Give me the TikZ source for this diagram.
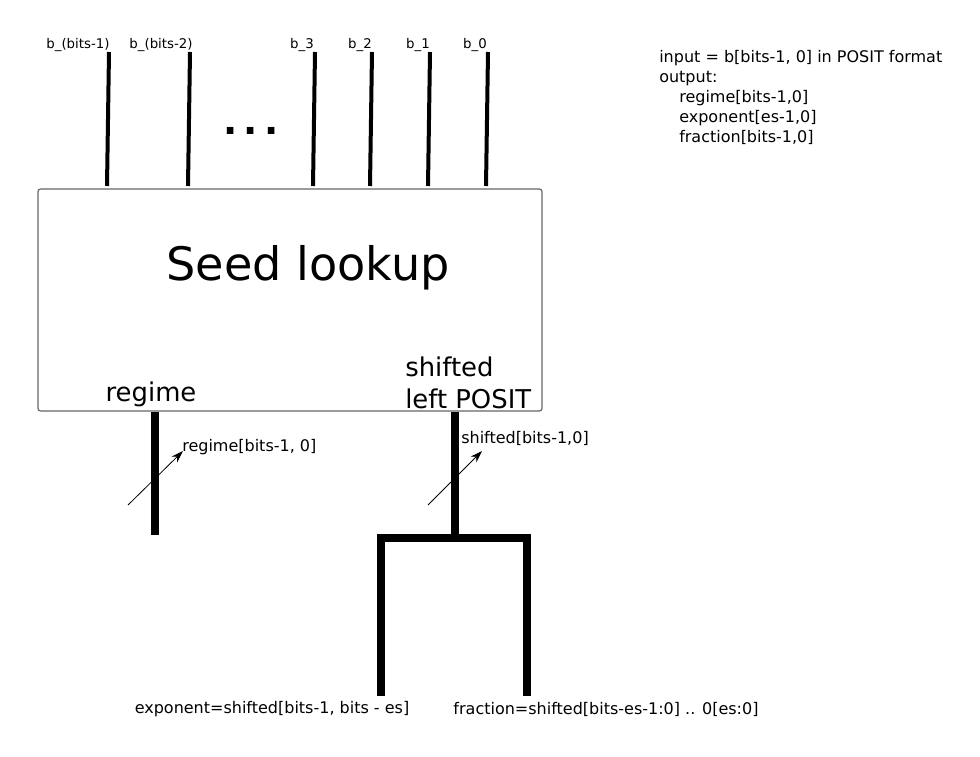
\documentclass[tikz,border=0pt]{standalone}
\usepackage{fontspec}
\setmainfont{DejaVu Sans}
\usetikzlibrary{arrows.meta}
\begin{document}
\begin{tikzpicture}[x=0.75pt,y=-0.75pt,
  bit/.style={line width=3pt},
  bus/.style={line width=5.5pt},
  slash/.style={line width=0.6pt,-{Stealth[length=9pt,width=6pt]}},
  small/.style={font=\fontsize{10}{12}\selectfont, inner sep=0pt},
  note/.style={font=\fontsize{12}{15}\selectfont, inner sep=0pt},
  big/.style={font=\fontsize{19.4}{24}\selectfont, inner sep=0pt},
  box/.style={draw=black!60, line width=0.9pt, rounded corners=2pt, minimum width=378pt, minimum height=166.5pt, inner sep=0pt}]
\useasboundingbox (0,0) rectangle (980,756);

% box
\node[box] (seed) at (290,300) {};
\node[font=\fontsize{34.6}{40}\selectfont, inner sep=0pt] (title) at (308,268) {Seed lookup};
\node[big] (reg) at (151,394) {regime};
\node[big, anchor=west, align=left, font=\fontsize{19.4}{24}\selectfont] (shl) at (405,383) {shifted\\left POSIT};

% input labels
\node[small] (l1) at (78,45) {b\_(bits-1)};
\node[small] (l2) at (161,45) {b\_(bits-2)};
\node[small] (l3) at (302,45) {b\_3};
\node[small] (l4) at (360,45) {b\_2};
\node[small] (l5) at (418,45) {b\_1};
\node[small] (l6) at (475,45) {b\_0};
\node[font=\bfseries\fontsize{28}{30}\selectfont, inner sep=0pt, anchor=base] (dots) at (251,134) {.\hspace{5pt}.\hspace{5pt}.};

% input lines
\coordinate (t1) at (109,52); \coordinate (b1) at (107,186);
\coordinate (t2) at (190,52); \coordinate (b2) at (188,186);
\coordinate (t3) at (315,52); \coordinate (b3) at (313,186);
\coordinate (t4) at (372,52); \coordinate (b4) at (370,186);
\coordinate (t5) at (430,52); \coordinate (b5) at (428,186);
\coordinate (t6) at (488,52); \coordinate (b6) at (486,186);
\foreach \i in {1,...,6} \draw[bit] (t\i) -- (b\i);

% output buses
\coordinate (r0) at (155,412); \coordinate (r1) at (155,535);
\draw[bus] (r0) -- (r1);
\coordinate (s0) at (455,412); \coordinate (s1) at (455,538);
\coordinate (e0) at (381,538); \coordinate (e1) at (381,696);
\coordinate (f0) at (527,538); \coordinate (f1) at (527,696);
\draw[bus] (s0) -- (s1);
\draw[bus, line join=miter] (e1) -- (e0) -- (f0) -- (f1);

% bus width markers
\coordinate (ra) at (128,505); \coordinate (rb) at (183,451);
\draw[slash] (ra) -- (rb);
\node[note, anchor=west] (rl) at (182,447) {regime[bits-1, 0]};
\coordinate (sa) at (428,505); \coordinate (sb) at (482,451);
\draw[slash] (sa) -- (sb);
\node[note, anchor=west] (sl) at (461,438) {shifted[bits-1,0]};

% bottom labels
\node[note] (exp) at (272,709) {exponent=shifted[bits-1, bits - es]};
\node[note] (frac) at (606,709) {fraction=shifted[bits-es-1:0] .. 0[es:0]};

% description
\node[note, anchor=north west, align=left] (desc) at (659,50) {input = b[bits-1, 0] in POSIT format\\output:\\\hspace*{15pt}regime[bits-1,0]\\\hspace*{15pt}exponent[es-1,0]\\\hspace*{15pt}fraction[bits-1,0]};
\end{tikzpicture}
\end{document}
